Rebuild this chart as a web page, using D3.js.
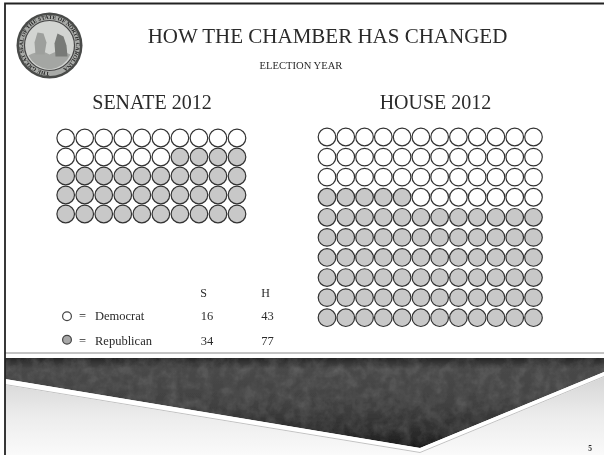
<!DOCTYPE html>
<html><head><meta charset="utf-8">
<script src="https://cdn.jsdelivr.net/npm/d3@7"></script>
<style>html,body{margin:0;padding:0;background:#fff}svg{display:block}text{font-family:"Liberation Serif",serif;fill:#2a2a2a}</style>
</head><body><svg id="c" width="604" height="455"></svg>
<script>
const titleText = "HOW THE CHAMBER HAS CHANGED";
const subtitleText = "ELECTION YEAR";
const chamberTitles = ["SENATE 2012", "HOUSE 2012"];
const sealText = "THE GREAT SEAL OF THE STATE OF NORTH CAROLINA";
const senateDemByRow = [10, 6, 0, 0, 0];
const senateRepByRow = [0, 4, 10, 10, 10];
const houseRepLeadByRow = [0, 0, 0, 5, 12, 12, 12, 12, 12, 12];
const houseDemByRow = [12, 12, 12, 7, 0, 0, 0, 0, 0, 0];
const legendColumns = ["S", "H"];
const legendParties = ["Democrat", "Republican"];
const legendSenate = [16, 34];
const legendHouse = [43, 77];
const partyColor = {D: "#ffffff", R: "#c8c8c8"};

const svg = d3.select("#c");
const defs = svg.append("defs");
defs.append("filter").attr("id","soft").append("feGaussianBlur").attr("stdDeviation",0.45);
defs.append("filter").attr("id","sealBlur").append("feGaussianBlur").attr("stdDeviation",0.7);
const grain = defs.append("filter").attr("id","grain").attr("x",0).attr("y",0).attr("width","100%").attr("height","100%");
grain.append("feTurbulence").attr("type","fractalNoise").attr("baseFrequency",0.09).attr("numOctaves",3).attr("seed",4);
grain.append("feColorMatrix").attr("values","0 0 0 0 0.5  0 0 0 0 0.5  0 0 0 0 0.5  1.6 0 0 0 -0.55");
grain.append("feComposite").attr("in2","SourceGraphic").attr("operator","in");
const grad = defs.append("linearGradient").attr("id","dark").attr("x1",0).attr("y1",0).attr("x2",0).attr("y2",1);
[[0,"#262626"],[0.12,"#484848"],[0.5,"#424242"],[0.85,"#2a2a2a"],[1,"#1a1a1a"]].forEach(d=>grad.append("stop").attr("offset",d[0]).attr("stop-color",d[1]));
const light = defs.append("linearGradient").attr("id","light").attr("x1",0).attr("y1",0).attr("x2",0).attr("y2",1);
[[0,"#d6d6d6"],[0.5,"#ececec"],[1,"#fafafa"]].forEach(d=>light.append("stop").attr("offset",d[0]).attr("stop-color",d[1]));

const root = svg.append("g").attr("filter","url(#soft)");

// footer
const line = d3.line();
const bandPts = [[5,358],[604,358],[604,372],[420,448],[5,379]];
root.append("path").attr("d", line(bandPts)+"Z").attr("fill","url(#dark)");
root.append("path").attr("d", line(bandPts)+"Z").attr("fill","#777").attr("filter","url(#grain)").attr("opacity",0.22);
root.append("path").attr("d", line([[5,385],[420,453],[604,377],[604,455],[5,455]])+"Z").attr("fill","url(#light)");
root.append("path").attr("d", line([[5,379],[420,448],[604,372],[604,377],[420,453],[5,385]])+"Z").attr("fill","#fff");
root.append("path").attr("d", line([[5,384.5],[420,452.5],[604,376.5]])).attr("fill","none").attr("stroke","#999").attr("stroke-width",0.6);
root.append("line").attr("x1",5).attr("x2",604).attr("y1",353).attr("y2",353).attr("stroke","#888").attr("stroke-width",1);

// frame
root.append("path").attr("d", line([[5,455],[5,3.5],[604,3.5]])).attr("fill","none").attr("stroke","#222").attr("stroke-width",1.8);

// seal
const seal = root.append("g").attr("transform","translate(49.5,45.5)").attr("filter","url(#sealBlur)");
seal.append("circle").attr("r",33).attr("fill","#4a4b4a");
seal.append("circle").attr("r",30.5).attr("fill","#a9aba8");
seal.append("path").attr("id","sealRing").attr("d","M0,26.5 A26.5,26.5 0 1 1 0.01,26.5").attr("fill","none");
seal.append("text").attr("font-size",5.6).attr("font-weight","bold").style("fill","#222")
  .append("textPath").attr("href","#sealRing").text(sealText);
seal.append("circle").attr("r",25).attr("fill","#d2d4d1").attr("stroke","#444").attr("stroke-width",1.2);
seal.append("path").attr("d","M-21,10 Q-8,3 0,9 Q10,3 21,9 Q15,22 0,24 Q-15,22 -21,10Z").attr("fill","#a4a6a3");
seal.append("path").attr("d","M-12,-13 L-6,-12 L-3,-3 L-5,9 L-14,9 L-15,-3Z").attr("fill","#9d9f9c");
seal.append("path").attr("d","M8,-12 L14,-9 L17,0 L18,11 L6,11 L5,-2Z").attr("fill","#787a77");

// titles
root.append("text").attr("x",327.5).attr("y",43).attr("text-anchor","middle").attr("font-size",21).text(titleText);
root.append("text").attr("x",301).attr("y",69).attr("text-anchor","middle").attr("font-size",10.6).text(subtitleText);
const titleX = [152, 435.5];
chamberTitles.forEach((t,i)=>root.append("text").attr("x",titleX[i]).attr("y",108.5).attr("text-anchor","middle").attr("font-size",20).text(t));

// seat grids
function grid(leadR, dem, trailR, cols, x0, x1, y0, y1){
  const rows = d3.range(dem.length);
  const x = d3.scalePoint().domain(d3.range(cols)).range([x0,x1]);
  const y = d3.scalePoint().domain(rows).range([y0,y1]);
  const seats = rows.flatMap(r=>{
    const seq = [...Array(leadR[r]).fill("R"),...Array(dem[r]).fill("D"),...Array(trailR[r]).fill("R")];
    return seq.map((p,c)=>({r,c,p}));
  });
  root.append("g").selectAll("circle").data(seats).join("circle")
    .attr("cx",d=>x(d.c)).attr("cy",d=>y(d.r)).attr("r",8.8)
    .attr("fill",d=>partyColor[d.p]).attr("stroke","#333").attr("stroke-width",1.2);
}
grid(Array(5).fill(0), senateDemByRow, senateRepByRow, 10, 65.7, 237, 138, 214);
grid(houseRepLeadByRow, houseDemByRow, Array(10).fill(0), 12, 327, 533.5, 137, 317.7);

// legend
const legY = d3.scalePoint().domain(legendParties).range([320,345]);
const legendSwatch = ["#ffffff","#a8a8a8"];
legendParties.forEach((p,i)=>{
  const y = legY(p);
  root.append("circle").attr("cx",67).attr("cy",y-3.8-i*1.5).attr("r",4.4).attr("fill",legendSwatch[i]).attr("stroke","#444").attr("stroke-width",1.2);
  root.append("text").attr("x",79).attr("y",y).attr("font-size",12.5).text("=");
  root.append("text").attr("x",95).attr("y",y).attr("font-size",12.5).text(p);
  root.append("text").attr("x",207).attr("y",y).attr("text-anchor","middle").attr("font-size",12.5).text(legendSenate[i]);
  root.append("text").attr("x",267.5).attr("y",y).attr("text-anchor","middle").attr("font-size",12.5).text(legendHouse[i]);
});
const colX = [203.5, 265.5];
legendColumns.forEach((c,i)=>root.append("text").attr("x",colX[i]).attr("y",297).attr("text-anchor","middle").attr("font-size",12).text(c));
root.append("text").attr("x",590).attr("y",451).attr("text-anchor","middle").attr("font-size",7.5).attr("font-weight","bold").text("5");
</script></body></html>
